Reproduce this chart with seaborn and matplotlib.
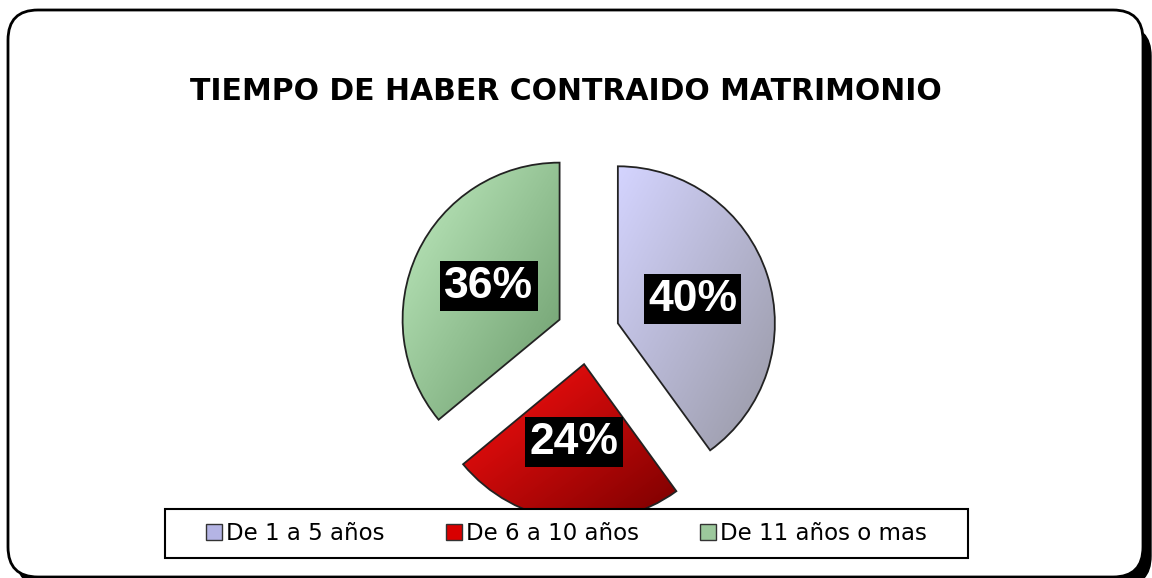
import numpy as np
import matplotlib
matplotlib.use("Agg")
import matplotlib.pyplot as plt
from matplotlib.patches import FancyBboxPatch, Patch, Rectangle
from matplotlib.colors import LinearSegmentedColormap
import seaborn as sns

# ---- data ----
title = "TIEMPO DE HABER CONTRAIDO MATRIMONIO"
categories = ["De 1 a 5 años", "De 6 a 10 años", "De 11 años o mas"]
values = [40, 24, 36]

# ---- style ----
sns.set_theme(style="white")
plt.rcParams["font.family"] = ["Liberation Sans", "DejaVu Sans"]
plt.rcParams["text.color"] = "black"

base_colors = sns.color_palette(["#b4b4e4", "#d80000", "#9cc89c"])
grad_light = ["#d4d4ff", "#ff1010", "#c0ecc0"]
grad_dark = ["#9898a4", "#7a0000", "#6a9a6a"]

W, H = 1152, 578
fig = plt.figure(figsize=(W / 100, H / 100), dpi=100)
ax = fig.add_axes([0, 0, 1, 1])
ax.set_xlim(0, W)
ax.set_ylim(0, H)
ax.axis("off")

# outer rounded frame with shadow on the right / bottom
shadow = FancyBboxPatch((16, -8), 1151 - 16, H - 26 + 8,
                        boxstyle="round,pad=0,rounding_size=30",
                        facecolor="black", edgecolor="black", lw=1, zorder=0)
ax.add_patch(shadow)
frame = FancyBboxPatch((8, 1), 1143 - 8, H - 10 - 1,
                       boxstyle="round,pad=0,rounding_size=30",
                       facecolor="white", edgecolor="black", lw=2, zorder=1)
ax.add_patch(frame)

# pie
center = (588, H - 333)
radius = 157
explode_frac = 0.2
wedges, texts, autotexts = ax.pie(
    values, colors=base_colors, startangle=90, counterclock=False,
    explode=[explode_frac * radius] * len(values), center=center, radius=radius,
    autopct="%1.0f%%", pctdistance=0.5,
    wedgeprops=dict(edgecolor="#222222", linewidth=1.3),
    textprops=dict(color="white", fontsize=32, fontweight="bold"),
    frame=True,
)

# gradient fill clipped to each wedge
for w, c0, c1 in zip(wedges, grad_light, grad_dark):
    ext = w.get_path().get_extents(w.get_patch_transform())
    x0, y0, x1, y1 = ext.x0, ext.y0, ext.x1, ext.y1
    gx, gy = np.meshgrid(np.linspace(0, 1, 100), np.linspace(0, 1, 100))
    g = (gx + gy) / 2.0  # top-left light, bottom-right dark (origin upper)
    cmap = LinearSegmentedColormap.from_list("g", [c0, c1])
    im = ax.imshow(g, cmap=cmap, extent=(x0, x1, y0, y1), origin="upper",
                   zorder=4, interpolation="bilinear", aspect="auto")
    im.set_clip_path(w)
    w.set_facecolor("none")
    w.set_zorder(5)

for t in autotexts:
    t.set_zorder(6)
    t.set_bbox(dict(facecolor="black", edgecolor="none", boxstyle="square,pad=0.1"))

ax.set_xlim(0, W)
ax.set_ylim(0, H)
ax.set_aspect("auto")
ax.axis("off")

# title
fig.text(566 / W, 1 - 91 / H, title, ha="center", va="center",
         fontsize=21.5, fontweight="bold", color="black", family="DejaVu Sans")

# legend frame
ax.add_patch(Rectangle((165, H - 558), 968 - 165, 558 - 509, facecolor="white",
                       edgecolor="black", lw=1.5, zorder=9))
handles = [Patch(facecolor=c, edgecolor="#333333", lw=1) for c in base_colors]
leg = fig.legend(handles, categories, loc="center", bbox_to_anchor=(566.5 / W, 1 - 533.5 / H),
                 ncol=3, frameon=False, prop=dict(family="DejaVu Sans", size=16.5),
                 handlelength=0.7, handleheight=0.7, handletextpad=0.15,
                 columnspacing=2.7, borderpad=0.3, labelcolor="black")
leg.set_zorder(10)

fig.savefig("out.png", dpi=100, facecolor="white")
